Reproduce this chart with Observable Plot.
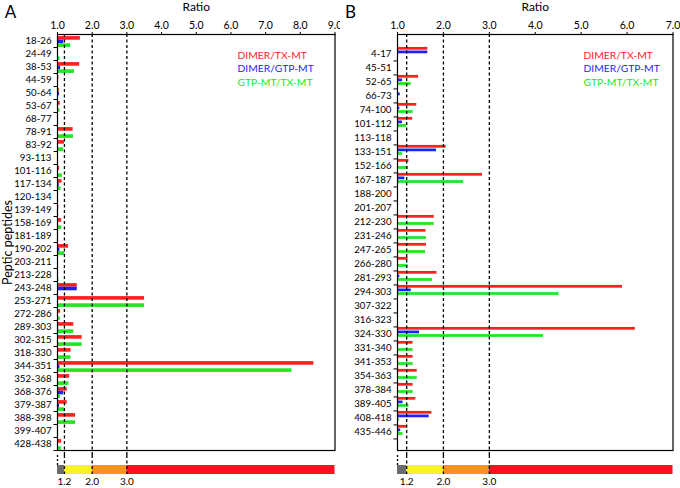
<!DOCTYPE html>
<html>
<head>
<meta charset="utf-8">
<script src="https://cdn.jsdelivr.net/npm/d3@7"></script>
<script src="https://cdn.jsdelivr.net/npm/@observablehq/plot@0.6"></script>
<style>
  html, body { margin: 0; padding: 0; background: white; }
  #wrap { display: flex; width: 680px; height: 488px; overflow: hidden; }
  .panel { width: 340px; display: flex; flex-direction: column; }
  svg { display: block; }
</style>
</head>
<body>
<div id="wrap"><div class="panel" id="pa"></div><div class="panel" id="pb"></div></div>
<script>
// ---------- data ----------
const seriesNames = ["DIMER/TX-MT", "DIMER/GTP-MT", "GTP-MT/TX-MT"];
const seriesColors = ["#ff1f1f", "#1f1fff", "#22e622"];

const peptidesA = ["18-26","24-49","38-53","44-59","50-64","53-67","68-77","78-91","83-92","93-113",
  "101-116","117-134","120-134","139-149","158-169","181-189","190-202","203-211","213-228","243-248",
  "253-271","272-286","289-303","302-315","318-330","344-351","352-368","368-376","379-387","388-398",
  "399-407","428-438"];
const dimerTxA = [1.66,null,1.64,1.04,1.05,1.08,null,1.45,1.20,null,
  1.06,1.13,null,1.04,1.12,null,1.32,null,null,1.57,
  3.51,1.09,1.47,1.71,1.39,8.39,1.35,1.28,1.28,1.52,
  null,1.12];
const dimerGtpA = [1.18,null,1.09,null,1.06,null,null,null,null,null,
  null,1.05,null,null,null,null,1.07,null,null,1.57,
  null,null,null,null,null,1.07,null,1.18,1.06,null,
  null,null];
const gtpTxA = [1.38,1.07,1.49,null,null,1.07,null,1.46,1.18,null,
  1.14,1.10,null,1.03,1.12,null,1.21,null,1.04,null,
  3.51,1.08,1.47,1.71,1.39,7.76,1.33,1.09,1.20,1.52,
  null,1.11];

const peptidesB = ["4-17","45-51","52-65","66-73","74-100","101-112","113-118","133-151","152-166","167-187",
  "188-200","201-207","212-230","231-246","247-265","266-280","281-293","294-303","307-322","316-323",
  "324-330","331-340","341-353","354-363","378-384","389-405","408-418","435-446"];
const dimerTxB = [1.66,null,1.46,null,1.42,1.33,null,2.06,1.25,2.85,
  null,null,1.80,1.62,1.63,1.23,1.86,5.90,null,null,
  6.18,1.34,1.34,1.43,1.34,1.40,1.75,1.21];
const dimerGtpB = [1.66,null,1.11,1.06,1.05,1.11,null,1.85,null,1.16,
  null,null,null,null,null,null,1.05,1.30,null,null,
  1.48,null,null,null,null,1.12,1.69,1.07];
const gtpTxB = [null,null,1.30,null,1.34,1.20,null,1.11,1.24,2.44,
  null,null,1.80,1.63,1.61,1.23,1.76,4.52,null,null,
  4.18,1.34,1.34,1.43,1.34,1.25,1.04,1.12];

const thresholds = [1.2, 2.0, 3.0];
const bandBreaksA = [1.0, 1.2, 2.0, 3.0, 9.0];
const bandBreaksB = [1.0, 1.2, 2.0, 3.0, 7.0];
const bandColors = ["#6b6b6b", "#f7f22a", "#f7931e", "#ff1020"];
const ticksA = [1,2,3,4,5,6,7,8,9];
const ticksB = [1,2,3,4,5,6,7];

const FONT = "Lato, 'Open Sans', sans-serif";

function panel(el, letter, peptides, seriesVals, xmax, xticks, breaks, showYLabel, legendDx, groupDy, mr) {
  const W = 340, H = 455, mt = 34, mb = 5, ml = 57;
  const bw = (H - mt - mb) / peptides.length;
  const barH = 3.6;
  const inset = (bw - barH) / 2;

  const barMarks = seriesVals.map((vals, i) => {
    const rows = peptides.map((p, j) => ({peptide: p, value: vals[j], series: seriesNames[i]}))
      .filter(d => d.value != null);
    return Plot.barX(rows, {
      x1: 1, x2: "value", y: "peptide", fill: seriesColors[i],
      dy: (i - 1) * barH + groupDy, insetTop: inset, insetBottom: inset
    });
  });

  const legendMarks = seriesNames.map((s, i) => Plot.text([s], {
    text: d => d, frameAnchor: "top-left", textAnchor: "start", lineAnchor: "middle",
    dx: legendDx, dy: 21 + 13.5 * i, fill: seriesColors[i], fontSize: 10.3
  }));

  const main = Plot.plot({
    width: W, height: H,
    marginTop: mt, marginBottom: mb, marginLeft: ml, marginRight: mr,
    style: {fontFamily: FONT, fontSize: "10px", color: "black", background: "white", overflow: "visible"},
    x: {domain: [1, xmax]},
    y: {domain: peptides, padding: 0},
    marks: [
      ...barMarks,
      Plot.ruleX(thresholds, {stroke: "black", strokeWidth: 1.3, strokeDasharray: "3,2.5", insetBottom: -5}),
      Plot.frame({stroke: "black", strokeWidth: 1.2}),
      Plot.axisX({anchor: "top", ticks: xticks, tickFormat: d3.format(".1f"), tickSize: 3, tickPadding: 3, label: null, fontSize: 10.5}),
      Plot.axisY({anchor: "left", tickSize: 0, tickPadding: 6, label: null, fontSize: 9.7}),
      Plot.axisY({anchor: "left", tickSize: 3.5, text: null, label: null, dy: bw / 2}),
      Plot.text(["Ratio"], {text: d => d, frameAnchor: "top", lineAnchor: "middle", dy: -27, fontSize: 12}),
      Plot.text([letter], {text: d => d, frameAnchor: "top-left", lineAnchor: "middle", dx: -47, dy: -22, fontSize: 17, textAnchor: "middle"}),
      ...(showYLabel ? [Plot.text(["Peptic peptides"], {text: d => d, frameAnchor: "left", textAnchor: "middle", lineAnchor: "middle", dx: -50, rotate: -90, fontSize: 12.5})] : []),
      ...legendMarks
    ]
  });

  const bands = breaks.slice(0, -1).map((b, i) => ({x1: b, x2: breaks[i + 1], c: bandColors[i]}));
  const cbar = Plot.plot({
    width: W, height: 33,
    marginTop: 10, marginBottom: 14, marginLeft: ml, marginRight: mr,
    style: {fontFamily: FONT, fontSize: "10px", color: "black", background: "white", overflow: "visible"},
    x: {domain: [1, xmax]},
    marks: [
      Plot.rect(bands, {x1: "x1", x2: "x2", fill: "c"}),
      Plot.ruleX(thresholds, {stroke: "black", strokeWidth: 1.3, strokeDasharray: "3,2.5", insetTop: -10}),
      Plot.ruleX([1.0], {stroke: "black", strokeWidth: 1.3, strokeDasharray: "2,2", insetTop: -10, insetBottom: 9}),
      Plot.axisX({anchor: "bottom", ticks: thresholds, tickFormat: d3.format(".1f"), tickSize: 0, tickPadding: 3, label: null, fontSize: 10})
    ]
  });

  el.appendChild(main);
  el.appendChild(cbar);
}

panel(document.getElementById("pa"), "A", peptidesA, [dimerTxA, dimerGtpA, gtpTxA], 9, ticksA, bandBreaksA, true, 180, 1, 5.5);
panel(document.getElementById("pb"), "B", peptidesB, [dimerTxB, dimerGtpB, gtpTxB], 7, ticksB, bandBreaksB, false, 186, -1.1, 7.5);
</script>
</body>
</html>
